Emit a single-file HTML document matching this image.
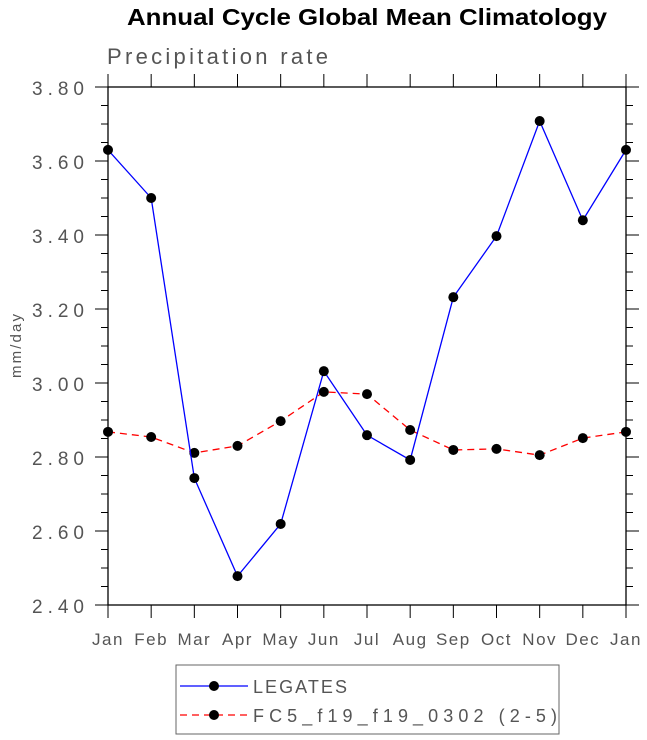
<!DOCTYPE html>
<html><head><meta charset="utf-8"><style>body{margin:0;background:#fff}svg{display:block}</style></head>
<body>
<svg id="chart" width="647" height="740" xmlns="http://www.w3.org/2000/svg" font-family="Liberation Sans, sans-serif">
<text x="127" y="25" textLength="480" lengthAdjust="spacingAndGlyphs" font-size="23" font-weight="bold">Annual Cycle Global Mean Climatology</text>
<text x="107" y="64" textLength="221" lengthAdjust="spacing" font-size="22" fill="#555">Precipitation rate</text>
<text transform="translate(21,346) rotate(-90)" text-anchor="middle" font-size="15" fill="#555" textLength="64" lengthAdjust="spacing">mm/day</text>
<g id="axes"></g>
<g id="series"></g>
<g>
<rect x="176" y="665" width="383" height="69" fill="none" stroke="#666"/>
<line x1="180" y1="686" x2="248" y2="686" stroke="#00f" stroke-width="1.3"/>
<circle cx="214" cy="686" r="5"/>
<text x="253" y="693" font-size="18" fill="#555" textLength="94" lengthAdjust="spacing">LEGATES</text>
<line x1="180" y1="715" x2="248" y2="715" stroke="#f00" stroke-width="1.3" stroke-dasharray="7,5"/>
<circle cx="214" cy="715" r="5"/>
<text x="253" y="722" font-size="18" fill="#555" textLength="304" lengthAdjust="spacing">FC5_f19_f19_0302 (2-5)</text>
</g>
</svg>
<script>
const months=["Jan","Feb","Mar","Apr","May","Jun","Jul","Aug","Sep","Oct","Nov","Dec","Jan"];
const legates=[3.630,3.500,2.743,2.478,2.619,3.032,2.859,2.792,3.232,3.397,3.708,3.440,3.630];
const fc5=[2.868,2.854,2.811,2.830,2.897,2.976,2.970,2.873,2.819,2.822,2.805,2.851,2.868];
const yTicks=["2.40","2.60","2.80","3.00","3.20","3.40","3.60","3.80"];
const NS="http://www.w3.org/2000/svg";
const X0=108,X1=626,Y0=605,Y1=87,ymin=2.4,ymax=3.8;
const xs=i=>X0+(X1-X0)*i/(months.length-1);
const ys=v=>Y0-(v-ymin)/(ymax-ymin)*(Y0-Y1);
function el(t,a,p){const e=document.createElementNS(NS,t);for(const k in a)e.setAttribute(k,a[k]);p.appendChild(e);return e;}
const ax=document.getElementById('axes');
const fr=el('rect',{x:X0,y:Y1,width:X1-X0,height:Y0-Y1,fill:'none',stroke:'#000','stroke-width':1.3},ax);


for(let v=ymin;v<=ymax+1e-9;v+=0.05){
  const major=Math.abs(Math.round(v*10)/10-v)<1e-6&&Math.round(v*10)%2===0;
  const L=major?13:7,y=ys(v);
  el('line',{x1:X0-L,y1:y,x2:X0,y2:y,stroke:'#000'},ax);
  el('line',{x1:X1,y1:y,x2:X1+L,y2:y,stroke:'#000'},ax);
}
yTicks.forEach(t=>{const tx=el('text',{x:32,y:ys(+t)+8,'font-size':19,fill:'#555',textLength:52,lengthAdjust:'spacing'},ax);tx.textContent=t;

});
months.forEach((m,i)=>{const x=xs(i);
  el('line',{x1:x,y1:Y0,x2:x,y2:Y0+13,stroke:'#000'},ax);
  el('line',{x1:x,y1:Y1-13,x2:x,y2:Y1,stroke:'#000'},ax);
  const tx=el('text',{x:x,y:Y0+40,'font-size':17,fill:'#555','text-anchor':'middle','letter-spacing':1.5},ax);tx.textContent=m;
  
  });
const sg=document.getElementById('series');
function draw(vals,col,dash,name){
  const pl=el('polyline',{points:vals.map((v,i)=>xs(i)+','+ys(v)).join(' '),fill:'none',stroke:col,'stroke-width':1.3,'stroke-dasharray':dash},sg);
  
  
  vals.forEach((v,i)=>{const c=el('circle',{cx:xs(i),cy:ys(v),r:5,fill:'#000'},sg);
    
    });
}
draw(fc5,'#f00','7,5','fc5');
draw(legates,'#00f','none','legates');
</script>
</body></html>
